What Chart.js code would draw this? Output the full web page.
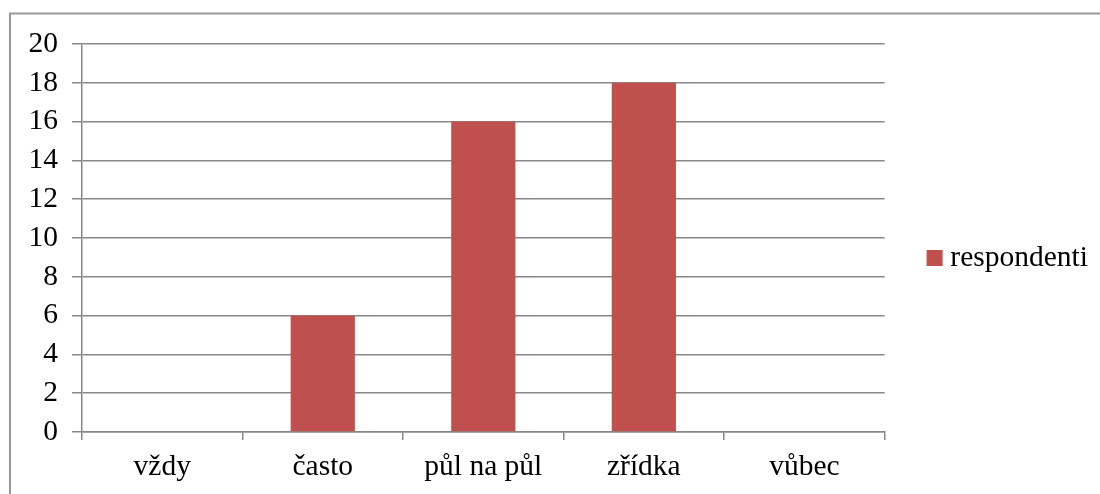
<!DOCTYPE html>
<html>
<head>
<meta charset="utf-8">
<script src="https://cdn.jsdelivr.net/npm/chart.js@4.4.0/dist/chart.umd.min.js"></script>
<style>
  html, body { margin: 0; padding: 0; background: #fff; }
  #wrap { width: 1100px; height: 494px; position: relative; }
</style>
</head>
<body>
<div id="wrap"><canvas id="chart"></canvas></div>
<script>
const categories = ["vždy", "často", "půl na půl", "zřídka", "vůbec"];
const respondenti = [0, 6, 16, 18, 0];
const seriesName = "respondenti";

const FONT = { family: "Liberation Serif", size: 29.5 };

// outer frame of the chart object (only top/left edges are visible)
const framePlugin = {
  id: "frame",
  beforeDraw(chart) {
    const ctx = chart.ctx;
    ctx.save();
    ctx.strokeStyle = "#999";
    ctx.lineWidth = 2;
    ctx.beginPath();
    ctx.moveTo(10, 600);
    ctx.lineTo(10, 13.5);
    ctx.lineTo(1200, 13.5);
    ctx.stroke();
    ctx.restore();
  },
};

// legend sits a bit above the middle of the plot in the original
const legendShift = {
  id: "legendShift",
  afterLayout(chart) {
    chart.legend.top -= 11;
    chart.legend.bottom -= 11;
  },
};

const ctx = document.getElementById("chart").getContext("2d");
new Chart(ctx, {
  type: "bar",
  data: {
    labels: categories,
    datasets: [
      {
        label: seriesName,
        data: respondenti,
        backgroundColor: "#C0504D",
        borderWidth: 0,
        barPercentage: 0.4,
        categoryPercentage: 1.0,
      },
    ],
  },
  options: {
    responsive: true,
    maintainAspectRatio: false,
    animation: false,
    layout: { padding: { top: 44, left: 20, right: 2, bottom: 0 } },
    plugins: {
      tooltip: { enabled: false },
      legend: {
        position: "right",
        labels: {
          usePointStyle: true,
          pointStyle: "rect",
          boxWidth: 2,
          boxHeight: 16,
          padding: 49,
          color: "#000",
          font: FONT,
        },
      },
    },
    scales: {
      x: {
        offset: true,
        grid: {
          offset: true,
          drawOnChartArea: false,
          drawTicks: true,
          tickLength: 8,
          color: "#888",
          lineWidth: 1.5,
        },
        border: { display: true, color: "#888", width: 1.5 },
        ticks: { color: "#000", padding: 10, font: FONT },
        afterFit(scale) { scale.height = 62; },
      },
      y: {
        min: 0,
        max: 20,
        ticks: { stepSize: 2, color: "#000", padding: 14, font: FONT },
        grid: { color: "#888", lineWidth: 1.5, tickLength: 10 },
        border: { display: true, color: "#888", width: 1.5 },
        afterFit(scale) { scale.width = 62; },
      },
    },
  },
  plugins: [framePlugin, legendShift],
});
</script>
</body>
</html>
